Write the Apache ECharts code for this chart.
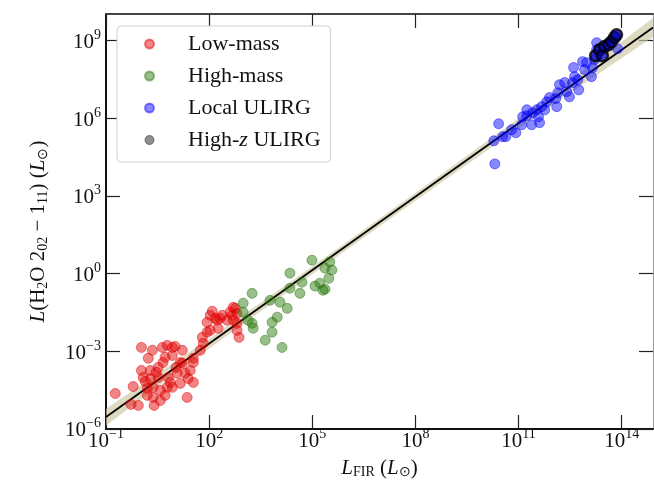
<!DOCTYPE html>
<html><head><meta charset="utf-8">
<script src="https://cdn.jsdelivr.net/npm/echarts@6/dist/echarts.min.js"></script>
<style>html,body{margin:0;padding:0;background:#fff}#c{width:654px;height:487px}</style>
</head><body><div id="c"></div>
<script>
// All values are log10 of luminosity in solar units
const xTickExp = [-1, 2, 5, 8, 11, 14];
const yTickExp = [-6, -3, 0, 3, 6, 9];
const seriesNames = ['Low-mass', 'High-mass', 'Local ULIRG', 'High-z ULIRG'];

const lowMass = [
 [-0.73,-4.63],[-0.21,-4.36],[-0.27,-5.05],[-0.06,-5.09],[0.03,-2.85],[0.03,-3.74],[0.08,-4.01],[0.14,-4.16],
 [0.23,-3.27],[0.29,-3.74],[0.35,-2.96],[0.37,-4.78],[0.40,-5.09],[0.20,-4.43],[0.20,-4.70],[0.37,-4.39],
 [0.52,-4.01],[0.52,-3.62],[0.58,-4.51],[0.64,-2.85],[0.66,-3.43],[0.72,-3.23],[0.78,-2.77],[0.93,-2.85],
 [1.01,-2.81],[0.93,-3.16],[0.81,-4.01],[0.78,-4.39],[0.93,-4.39],[0.87,-4.20],[1.07,-3.85],[1.16,-3.43],
 [1.22,-2.96],[1.16,-4.24],[1.30,-3.85],[1.36,-4.78],[1.45,-3.74],[1.39,-4.05],[1.54,-4.20],[1.54,-3.43],
 [1.22,-3.46],[0.29,-4.05],[0.46,-3.81],[0.72,-4.70],[1.04,-3.62],[0.58,-4.90],
 [1.74,-2.96],[1.83,-2.69],[1.80,-2.46],[1.94,-2.26],[2.03,-2.19],[1.94,-1.88],[2.03,-1.61],[2.09,-1.45],
 [2.18,-1.72],[2.23,-1.80],[2.26,-2.11],[2.32,-1.72],[2.38,-1.61],[2.52,-1.80],[2.61,-1.49],[2.67,-1.61],
 [2.70,-1.30],[2.76,-1.34],[2.81,-1.53],[2.70,-1.80],[2.81,-1.92],[2.81,-2.19],[2.87,-2.46],[1.54,-3.27]
];
const highMass = [
 [2.99,-1.14],[2.99,-1.49],[3.13,-1.80],[3.25,-1.92],[3.28,-2.11],[3.25,-0.76],[3.63,-2.57],[3.83,-2.26],
 [3.83,-1.88],[3.77,-1.03],[3.98,-1.68],[4.06,-1.10],[4.12,-2.85],[4.27,-1.34],[4.35,0.02],[4.35,-0.56],
 [4.64,-0.76],[4.70,-0.33],[4.99,0.52],[5.08,-0.48],[5.22,-0.37],[5.31,-0.64],[5.37,-0.60],[5.37,0.21],
 [5.51,0.45],[5.57,0.14],[5.48,-0.18]
];
const localULIRG = [
 [10.31,4.24],[10.28,5.13],[10.42,5.79],[10.54,5.29],[10.63,5.29],[10.80,5.56],[10.92,5.44],[11.09,5.75],
 [11.12,6.06],[11.24,6.10],[11.24,6.33],[11.38,5.75],[11.41,6.21],[11.53,6.33],[11.58,6.06],[11.61,5.83],
 [11.67,6.45],[11.76,6.33],[11.82,6.64],[11.90,6.80],[12.08,6.76],[12.11,6.45],[12.14,6.99],[12.19,7.30],
 [12.34,7.38],[12.40,7.03],[12.48,6.83],[12.57,7.38],[12.63,7.61],[12.60,7.96],[12.72,7.49],[12.75,7.10],
 [12.86,8.19],[12.92,7.88],[12.98,8.15],[13.12,7.61],[13.15,7.96],[13.21,8.27],[13.27,8.65],[13.27,8.92],
 [13.88,8.69]
];
const highzULIRG = [
 [13.24,8.42],[13.36,8.65],[13.44,8.42],[13.50,8.77],[13.62,8.85],[13.70,8.96],[13.79,9.12],[13.85,9.23]
];
const fitX = [-1, 14.91];
const fitY = [-5.54, 9.507];
const bandX     = [-1,    2,     5,    8,    11,   14,   14.91];
const bandLower = [-5.86, -2.89, -0.02, 2.82, 5.62, 8.33, 9.14];
const bandUpper = [-5.22, -2.51, 0.28, 3.12, 6.00, 8.96, 9.88];

const SERIF = "'Liberation Serif','Times New Roman',serif";
function expLabel(v) {
  const e = Math.round(v);
  if (Math.abs(v - e) > 1e-6) return '';
  return '{b|10}{s|' + (e < 0 ? '\u2212' + (-e) : e) + '}';
}
const tickRich = {
  b: {fontFamily: SERIF, fontSize: 21, lineHeight: 21, padding: [3.5, 0, 0, 0], color: '#111'},
  s: {fontFamily: SERIF, fontSize: 14, lineHeight: 14, padding: [0, 0, 10.5, 0], color: '#111'}
};
const nameRich = {
  i: {fontFamily: SERIF, fontSize: 21, fontStyle: 'italic', lineHeight: 21, color: '#111'},
  n: {fontFamily: SERIF, fontSize: 21, lineHeight: 21, color: '#111'},
  sub: {fontFamily: SERIF, fontSize: 14, lineHeight: 14, padding: [9, 0, 0, 0], color: '#111'}
};
const tickStyle = {show: true, inside: true, length: 14, lineStyle: {color: '#222', width: 1.2}};

const colors = {
  low: 'rgba(225,0,0,0.6)', high: 'rgba(40,120,10,0.6)', loc: 'rgba(0,0,255,0.58)', hz: 'rgba(0,0,190,0.9)'
};

const chart = echarts.init(document.getElementById('c'), null, {renderer: 'canvas'});
chart.setOption({
  animation: false,
  backgroundColor: '#fff',
  grid: {left: 106, right: 1, top: 14, bottom: 58, containLabel: false, outerBoundsMode: 'none'},
  legend: {
    orient: 'vertical', left: 117, top: 26,
    padding: [7, 10, 11, 27], itemGap: 10, itemWidth: 9, itemHeight: 9,
    backgroundColor: '#fff', borderColor: '#d0d0d0', borderWidth: 1, borderRadius: 4,
    icon: 'circle',
    data: [
      {name: 'Low-mass'}, {name: 'High-mass'}, {name: 'Local ULIRG'},
      {name: 'High-z ULIRG', itemStyle: {color: 'rgba(0,0,0,0.55)', borderColor: 'rgba(0,0,0,0.55)', borderWidth: 1}}
    ],
    formatter: function (n) {
      if (n === 'High-z ULIRG') return '{n|High-}{z|z}{n| ULIRG}';
      return '{n|' + n + '}';
    },
    textStyle: {
      fontFamily: SERIF, fontSize: 22, color: '#111', padding: [0, 0, 0, 29],
      rich: {
        n: {fontFamily: SERIF, fontSize: 22, lineHeight: 22, color: '#111'},
        z: {fontFamily: SERIF, fontSize: 22, lineHeight: 22, fontStyle: 'italic', color: '#111'}
      }
    }
  },
  xAxis: [{
    type: 'value', position: 'bottom', min: -1, max: 14.91, interval: 3,
    axisLine: {show: true, onZero: false, lineStyle: {color: '#111', width: 2}},
    axisTick: Object.assign({customValues: xTickExp}, tickStyle),
    axisLabel: {customValues: xTickExp, formatter: expLabel, rich: tickRich, margin: 0},
    splitLine: {show: false},
    name: '{i|L}{sub|FIR}{n| (}{i|L}{sub|\u2299}{n|)}', nameLocation: 'middle', nameGap: 26,
    nameTextStyle: {rich: nameRich}
  }, {
    type: 'value', position: 'top', min: -1, max: 14.91, interval: 3,
    axisLine: {show: true, onZero: false, lineStyle: {color: '#444', width: 2}},
    axisTick: Object.assign({customValues: xTickExp}, tickStyle),
    axisLabel: {show: false}, splitLine: {show: false}
  }],
  yAxis: [{
    type: 'value', position: 'left', min: -6, max: 10.03, interval: 3,
    axisLine: {show: true, onZero: false, lineStyle: {color: '#111', width: 2}},
    axisTick: Object.assign({customValues: yTickExp}, tickStyle),
    axisLabel: {customValues: yTickExp, formatter: expLabel, rich: tickRich, margin: 5},
    splitLine: {show: false},
    name: '{i|L}{n|(H}{sub|2}{n|O 2}{sub|02}{n| \u2212 1}{sub|11}{n|) (}{i|L}{sub|\u2299}{n|)}',
    nameLocation: 'middle', nameRotate: 90, nameGap: 57,
    nameTextStyle: {rich: nameRich, padding: [0, 20, 0, 0]}
  }, {
    type: 'value', position: 'right', min: -6, max: 10.03, interval: 3,
    axisLine: {show: true, onZero: false, lineStyle: {color: '#999', width: 1}},
    axisTick: Object.assign({customValues: yTickExp}, tickStyle),
    axisLabel: {show: false}, splitLine: {show: false}
  }],
  series: [
    {
      type: 'custom', name: 'band', silent: true, z: 1,
      data: [[0, 0]],
      renderItem: function (params, api) {
        const pts = [];
        for (let i = 0; i < bandX.length; i++) pts.push(api.coord([bandX[i], bandUpper[i]]));
        for (let i = bandX.length - 1; i >= 0; i--) pts.push(api.coord([bandX[i], bandLower[i]]));
        return {type: 'polygon', shape: {points: pts, smooth: 0}, style: {fill: 'rgba(205,198,160,0.65)', stroke: null}};
      },
      clip: true
    },
    {
      type: 'line', name: 'fit', z: 2, silent: true, showSymbol: false,
      data: fitX.map((x, i) => [x, fitY[i]]),
      lineStyle: {color: '#000', width: 1.8}
    },
    {
      type: 'scatter', name: 'Low-mass', z: 3, symbolSize: 10, data: lowMass,
      itemStyle: {color: colors.low, borderColor: colors.low, borderWidth: 1}
    },
    {
      type: 'scatter', name: 'High-mass', z: 3, symbolSize: 10, data: highMass,
      itemStyle: {color: colors.high, borderColor: colors.high, borderWidth: 1}
    },
    {
      type: 'scatter', name: 'Local ULIRG', z: 3, symbolSize: 10, data: localULIRG,
      itemStyle: {color: colors.loc, borderColor: colors.loc, borderWidth: 1}
    },
    {
      type: 'scatter', name: 'High-z ULIRG', z: 4, symbolSize: 11, data: highzULIRG,
      itemStyle: {color: colors.hz, borderColor: '#000', borderWidth: 2.5}
    }
  ]
});
</script></body></html>
